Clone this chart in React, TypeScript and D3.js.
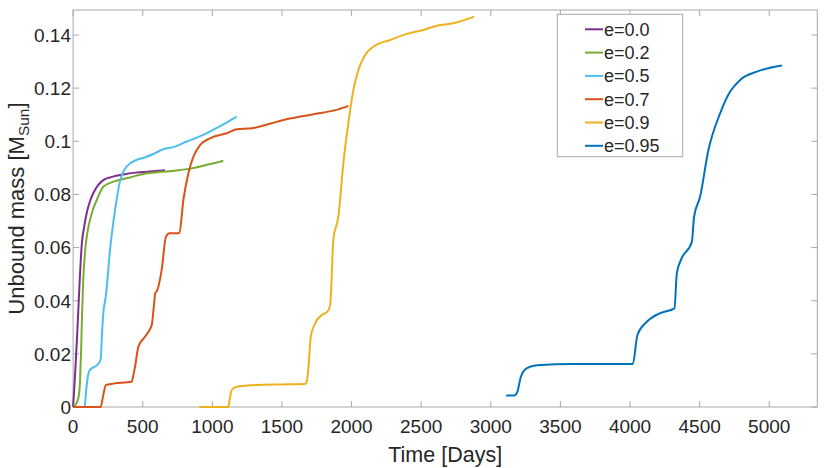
import React, { useRef, useEffect } from "react";
import * as d3 from "d3";

// series: time [days] vs unbound mass [M_sun]
const labels = ["e=0.0", "e=0.2", "e=0.5", "e=0.7", "e=0.9", "e=0.95"];
const colors = ["#7E2F8E", "#77AC30", "#4DBEEE", "#D95319", "#EDB120", "#0072BD"];

const daysE00 = [0, 15, 30, 45, 62, 80, 100, 125, 150, 180, 217, 280, 360, 450, 550, 660];
const massE00 = [0, 0.013, 0.028, 0.045, 0.061, 0.068, 0.0735, 0.078, 0.081, 0.0835, 0.0854, 0.0866, 0.0875, 0.0882, 0.0886, 0.0891];

const daysE02 = [0, 20, 40, 50, 58, 65, 73, 85, 102, 134, 170, 217, 289, 409, 504, 620, 744, 850, 935, 1000, 1079];
const massE02 = [0, 0.001, 0.004, 0.01, 0.022, 0.036, 0.048, 0.058, 0.0654, 0.0729, 0.0779, 0.0829, 0.0848, 0.0864, 0.0877, 0.0884, 0.089, 0.0898, 0.0908, 0.0916, 0.0927];

const daysE05 = [0, 82, 95, 110, 125, 150, 180, 198, 208, 217, 236, 265, 301, 337, 385, 457, 520, 576, 648, 720, 816, 935, 1032, 1175];
const massE05 = [0, 0, 0.007, 0.0125, 0.0142, 0.015, 0.0162, 0.018, 0.028, 0.0353, 0.042, 0.059, 0.074, 0.085, 0.0905, 0.093, 0.094, 0.0952, 0.097, 0.0978, 0.0999, 0.1024, 0.105, 0.1093];

const daysE07 = [0, 198, 215, 236, 289, 421, 433, 445, 469, 517, 565, 580, 590, 605, 636, 667, 691, 763, 792, 828, 864, 912, 983, 1103, 1175, 1283, 1400, 1510, 1654, 1797, 1905, 1977];
const massE07 = [0, 0, 0.004, 0.0083, 0.0088, 0.0095, 0.012, 0.0152, 0.0227, 0.0265, 0.0309, 0.038, 0.0428, 0.044, 0.0516, 0.0641, 0.0654, 0.0654, 0.0779, 0.088, 0.0942, 0.0986, 0.1011, 0.103, 0.1045, 0.1049, 0.1064, 0.108, 0.1095, 0.1108, 0.112, 0.1133];

const daysE09 = [907, 1115, 1125, 1139, 1175, 1319, 1500, 1666, 1680, 1690, 1707, 1738, 1786, 1826, 1845, 1851, 1869, 1905, 1941, 1977, 2013, 2049, 2097, 2157, 2277, 2397, 2516, 2612, 2731, 2880];
const massE09 = [0, 0, 0.003, 0.0064, 0.0076, 0.0083, 0.0085, 0.0087, 0.01, 0.0146, 0.0265, 0.0315, 0.0346, 0.0359, 0.038, 0.0415, 0.0629, 0.0716, 0.0917, 0.1068, 0.1193, 0.1268, 0.1325, 0.1356, 0.1381, 0.1404, 0.1419, 0.1435, 0.1444, 0.1469];

const daysE095 = [3110, 3167, 3191, 3216, 3259, 3331, 3593, 3800, 4020, 4053, 4121, 4216, 4319, 4336, 4365, 4444, 4460, 4503, 4563, 4647, 4719, 4791, 4911, 5091];
const massE095 = [0.0043, 0.0043, 0.0058, 0.0114, 0.0146, 0.0157, 0.0162, 0.0162, 0.0162, 0.0271, 0.0321, 0.0353, 0.0371, 0.0503, 0.0553, 0.0622, 0.0716, 0.0791, 0.0967, 0.1105, 0.1187, 0.1231, 0.1262, 0.1285];

const xTicks = [0, 500, 1000, 1500, 2000, 2500, 3000, 3500, 4000, 4500, 5000];
const yTicks = [0, 0.02, 0.04, 0.06, 0.08, 0.1, 0.12, 0.14];

const seriesDays = [daysE00, daysE02, daysE05, daysE07, daysE09, daysE095];
const seriesMass = [massE00, massE02, massE05, massE07, massE09, massE095];

const width = 830,
  height = 468;
const margin = { top: 10, right: 12.7, bottom: 61, left: 73.1 };
const font = "'Liberation Sans', Arial, Helvetica, sans-serif";
const axisGrey = "#a8a8a8";
const textColor = "#262626";

const App: React.FC = () => {
  const ref = useRef<SVGSVGElement>(null);

  useEffect(() => {
    const svg = d3.select(ref.current);
    svg.selectAll("*").remove();

    const x = d3
      .scaleLinear()
      .domain([0, 5345])
      .range([margin.left, width - margin.right]);
    const y = d3
      .scaleLinear()
      .domain([0, 0.1494])
      .range([height - margin.bottom, margin.top]);

    const x0 = margin.left,
      x1 = width - margin.right,
      y0 = height - margin.bottom,
      y1 = margin.top;
    const tickLen = 6;

    svg.append("rect").attr("width", width).attr("height", height).attr("fill", "#fff");

    // box with inward ticks on all four sides
    const frame = svg.append("g").attr("stroke", axisGrey).attr("stroke-width", 1).attr("fill", "none");
    frame.append("rect").attr("x", x0).attr("y", y1).attr("width", x1 - x0).attr("height", y0 - y1);
    xTicks.forEach((t) => {
      frame.append("line").attr("x1", x(t)).attr("x2", x(t)).attr("y1", y0).attr("y2", y0 - tickLen);
      frame.append("line").attr("x1", x(t)).attr("x2", x(t)).attr("y1", y1).attr("y2", y1 + tickLen);
    });
    yTicks.forEach((t) => {
      frame.append("line").attr("x1", x0).attr("x2", x0 + tickLen).attr("y1", y(t)).attr("y2", y(t));
      frame.append("line").attr("x1", x1).attr("x2", x1 - tickLen).attr("y1", y(t)).attr("y2", y(t));
    });

    // tick labels
    svg
      .append("g")
      .selectAll("text")
      .data(xTicks)
      .enter()
      .append("text")
      .attr("x", (d) => x(d))
      .attr("y", 433)
      .attr("text-anchor", "middle")
      .attr("fill", textColor)
      .style("font-family", font)
      .style("font-size", "19px")
      .text((d) => String(d));

    svg
      .append("g")
      .selectAll("text")
      .data(yTicks)
      .enter()
      .append("text")
      .attr("x", 71)
      .attr("y", (d) => y(d) + 6.8)
      .attr("text-anchor", "end")
      .attr("fill", textColor)
      .style("font-family", font)
      .style("font-size", "19px")
      .text((d) => (d === 0 ? "0" : String(+d.toFixed(2))));

    // lines
    const line = d3
      .line<[number, number]>()
      .x((d) => x(d[0]))
      .y((d) => y(d[1]))
      .curve(d3.curveMonotoneX);

    const plot = svg.append("g");
    seriesDays.forEach((days, i) => {
      const pts = days.map((d, j) => [d, seriesMass[i][j]] as [number, number]);
      plot
        .append("path")
        .datum(pts)
        .attr("fill", "none")
        .attr("stroke", colors[i])
        .attr("stroke-width", 2)
        .attr("stroke-linejoin", "round")
        .attr("d", line);
    });

    // axis titles
    svg
      .append("text")
      .attr("x", (x0 + x1) / 2)
      .attr("y", 462)
      .attr("text-anchor", "middle")
      .attr("fill", textColor)
      .style("font-family", font)
      .style("font-size", "21.5px")
      .text("Time [Days]");

    const yl = svg
      .append("text")
      .attr("transform", `translate(23.5,${(y0 + y1) / 2}) rotate(-90)`)
      .attr("text-anchor", "middle")
      .attr("fill", textColor)
      .style("font-family", font)
      .style("font-size", "22px");
    yl.append("tspan").text("Unbound mass [M");
    yl.append("tspan").attr("dy", 5).style("font-size", "15.5px").text("Sun");
    yl.append("tspan").attr("dy", -5).text("]");

    // legend
    const lg = svg.append("g");
    lg.append("rect")
      .attr("x", 557.3)
      .attr("y", 14.3)
      .attr("width", 125.4)
      .attr("height", 142.4)
      .attr("fill", "#fff")
      .attr("stroke", axisGrey);
    labels.forEach((lab, i) => {
      const cy = 29.3 + i * 23.3;
      lg.append("line")
        .attr("x1", 585)
        .attr("x2", 603)
        .attr("y1", cy)
        .attr("y2", cy)
        .attr("stroke", colors[i])
        .attr("stroke-width", 2);
      lg.append("text")
        .attr("x", 604)
        .attr("y", cy + 6.3)
        .attr("fill", textColor)
        .style("font-family", font)
        .style("font-size", "18px")
        .text(lab);
    });
  }, []);

  return (
    <div style={{ position: "absolute", left: 0, top: 0 }}>
      <svg ref={ref} width={width} height={height} style={{ display: "block" }} />
    </div>
  );
};

export default App;
